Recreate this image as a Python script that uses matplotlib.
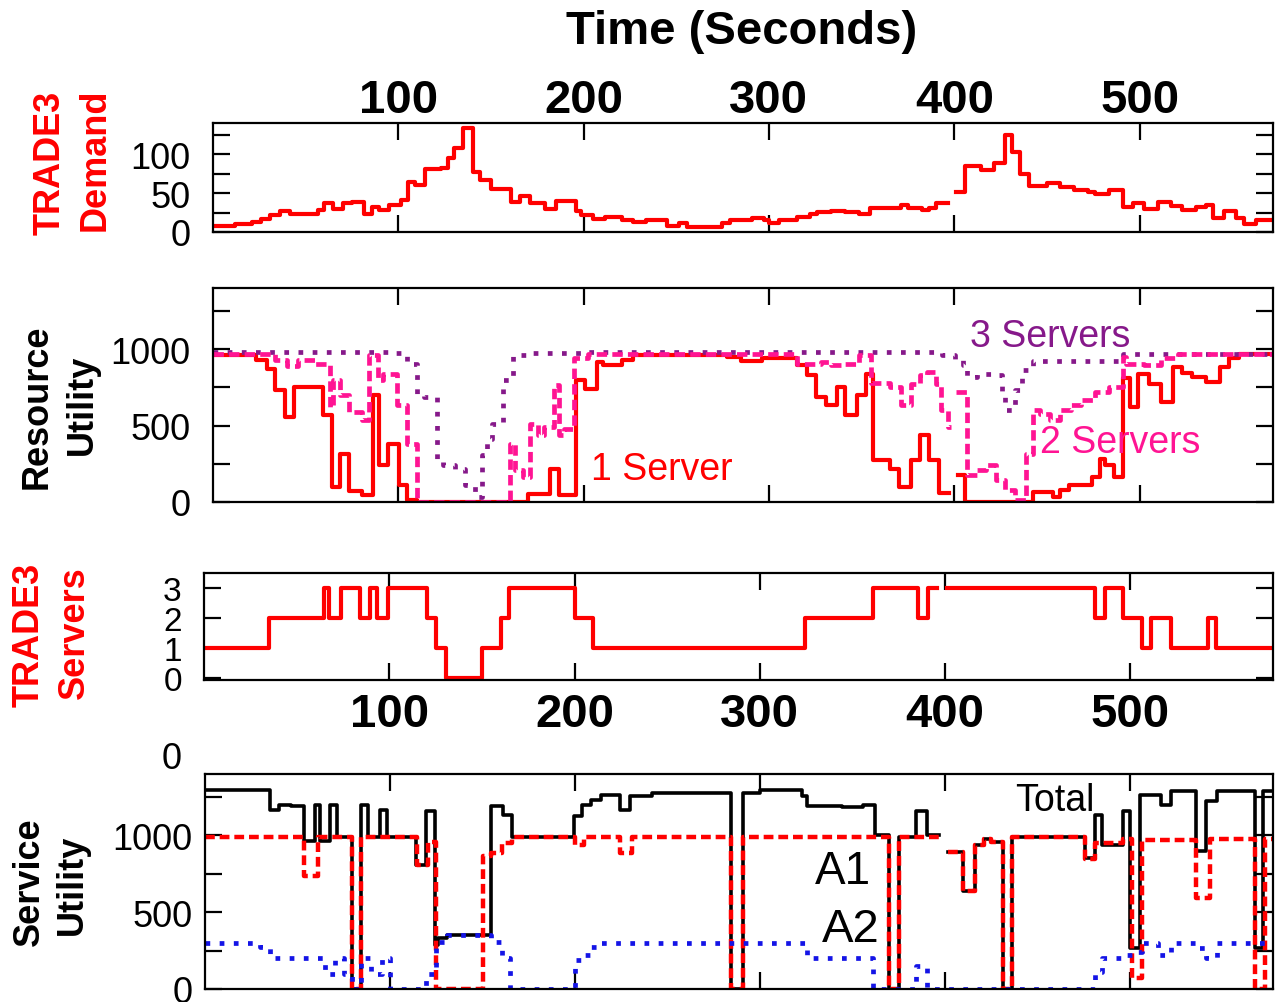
import numpy as np
import matplotlib
matplotlib.use('Agg')
import matplotlib.pyplot as plt

nan = np.nan

# ---------------- Panel 1: TRADE3 demand ----------------
demand_t = [0, 12, 21.3, 25.9, 30.5, 36, 41.6, 56.4, 60.1, 64.7, 70.3, 74.9, 81.4, 86, 89.7, 95.2,
            101.7, 105.4, 109.1, 114.6, 123, 126.7, 130.3, 135, 140.5, 144.2, 149.8, 160.8, 165.5,
            171, 179.3, 184.9, 196, 198.7, 205.2, 211.7, 220.9, 226.5, 233.9, 245, 251.4, 256,
            263.4, 274.5, 279.2, 285, 290.6, 297.2, 300, 305.6, 315, 322.4, 326.2, 333.7, 341.2,
            348.7, 354.3, 371.1, 374.9, 382.4, 386.1, 389.9, 396.4, 401.1, 405.8, 414.2, 421.7,
            427.3, 431.1, 435.7, 440.4, 449.8, 457.3, 464.8, 472.3, 476, 483.5, 491, 496.6, 502.2,
            509.7, 517.2, 522.8, 530.3, 535.9, 539.7, 545.3, 551.8, 556.5, 563, 572]
demand_v = [8, 10.5, 12.7, 17, 21.4, 27, 23.6, 28, 36.7, 30, 36.7, 38.9, 23.6, 32.3, 28.8, 34.5,
            41, 63.8, 60.7, 81.2, 82.5, 95.6, 107.4, 133.6, 76.9, 67.3, 55, 38.9, 46.3,
            37.6, 30, 40.2, 27, 21.4, 17, 19.2, 15.7, 12.7, 14.8, 8.3, 11.4, 6.1,
            7, 11.4, 14.8, 15.7, 18.3, 15.7, 11.4, 15.7, 19.2, 22.7, 25.8, 27, 25.8,
            22.7, 31.4, 34.5, 31.4, 27.9, 31.4, 36.7, nan, 52, 84.7, 79.5, 89,
            124.9, 103, 75, 58.5, 62.9, 57.2, 54.2, 52, 48.9, 54.2, 32.3, 37.6, 30,
            38.9, 33.2, 27.9, 32.3, 34.5, 18.3, 27, 18.3, 10.5, 14.8, 14.8]

# ---------------- Panel 2: resource utility ----------------
one_srv_t = [0, 23.4, 29, 33.6, 39.1, 43.7, 59.4, 64, 68.6, 73.2, 80.6, 86.2, 89.5, 94.5, 100.5,
             104.6, 110.1, 170.1, 182.1, 186.7, 195.9, 200.5, 207, 210.7, 220.8, 226.4, 277.5,
             285, 296.2, 305.6, 315, 320.6, 325.3, 330.9, 336.5, 341.2, 347.7, 352.4, 356.2,
             365.5, 370.2, 376.7, 381.4, 386.1, 391.7, 397.3, 402, 405.8, 442.3, 453.5, 457.3,
             462, 474.1, 478.8, 481.6, 486.3, 491, 494.7, 499.4, 505, 511.6, 518.1, 522.8, 528.4,
             535.9, 543.4, 548.1, 553.7, 572]
one_srv_v = [960, 932, 867, 731, 557, 753, 568, 98, 317, 70, 44, 699, 240, 382, 109,
             11, 0, 50, 218, 44, 797, 736, 917, 895, 932, 960, 950,
             923, 945, 939, 895, 830, 688, 633, 753, 568, 699, 836, 273,
             218, 98, 273, 437, 273, 59, nan, 175, 0, 65, 33, 76,
             109, 164, 284, 240, 164, 808, 622, 840, 775, 655, 884, 845, 819,
             786, 884, 939, 971, 971]

two_srv_t = [0, 33.6, 40, 45.6, 54.8, 63.1, 64.9, 68.6, 73.2, 80.6, 84.3, 88.9, 91.7, 99.1, 104.6,
             110.1, 160, 162.7, 167.3, 171, 175.6, 178.4, 183.9, 186.7, 189.5, 195, 202.4, 315,
             328.1, 333.7, 341.2, 348.7, 355.2, 365.5, 371.1, 376.7, 381.4, 385.2, 389.9, 392.7,
             396.4, 398.3, 401.1, 406.7, 412.3, 417, 422.6, 427.3, 432.9, 438.5, 442.3, 446,
             451.7, 457.3, 462.9, 468.5, 476, 483.5, 491, 492.9, 502.2, 511.6, 521, 572]
two_srv_v = [971, 928, 888, 928, 906, 622, 797, 699, 589, 535, 960, 797, 840, 633, 382,
             0, 382, 207, 164, 513, 437, 491, 764, 437, 480, 939, 967, 906,
             917, 895, 906, 960, 779, 753, 633, 775, 830, 851, 775, 600,
             491, nan, 720, 175, 207, 240, 142, 76, 11, 317, 600, 578,
             535, 600, 633, 666, 720, 753, 950, 906, 895, 939, 967, 967]

three_srv_t = [0, 99, 104.6, 110.1, 114, 121, 124, 130.4, 136, 141.5, 145.2, 148, 150.7, 156.3,
               161.8, 171, 200, 393.6, 400.2, 404.9, 406.7, 412.4, 419.8, 425.5, 427.3, 433,
               436.7, 442.3, 491, 572]
three_srv_v = [982, 975, 906, 700, 688, 273, 240, 218, 109, 33, 306, 415, 513, 797,
               960, 975, 980, 960, 928, 895, 819, 840, 830, 710, 600, 731,
               862, 923, 967, 967]

# ---------------- Panel 3: TRADE3 servers ----------------
servers_t = [0, 35.2, 64.8, 67.6, 74.1, 84.3, 89.8, 93.5, 99.1, 120.4, 125, 130.6, 150, 160.2,
             164.8, 200, 210.2, 324.4, 360.9, 385.3, 390.9, 395.6, 401.2, 480.9, 486.5, 495.9,
             506.2, 510.9, 522.1, 541.8, 546.5, 577]
servers_v = [1, 2, 3, 2, 3, 2, 3, 2, 3, 2, 1, 0, 1, 2,
             3, 2, 1, 2, 3, 2, 3, nan, 3, 2, 3, 2,
             1, 2, 1, 2, 1, 1]

# ---------------- Panel 4: service utility ----------------
total_t = [0, 35.2, 39.8, 46.3, 53.7, 59.3, 62, 67.6, 71.3, 79.6, 84.3, 88, 94.4, 98.1, 113.9,
           119.4, 124.1, 125.9, 130.6, 154.6, 161.1, 165.7, 199.1, 203.7, 208.3, 213.9, 224.1,
           229.6, 234.3, 241.7, 284.1, 290.6, 300, 322.5, 325.3, 344, 355.3, 361.9, 369.4, 375,
           384.3, 390, 396.5, 401.2, 409.7, 416.2, 420.9, 424.6, 431.2, 435.9, 475.3, 480.9,
           484.6, 495.9, 499.6, 505.3, 516.5, 522.1, 535.2, 540.9, 546.5, 567.1, 571.8, 577]
total_v = [1295, 1167, 1200, 1189, 965, 1200, 965, 1200, 990, 0, 1200, 990, 1167, 990, 809,
           1157, 287, 330, 352, 1189, 1135, 993, 1124, 1200, 1232, 1264, 1167,
           1254, 1260, 1276, 0, 1276, 1298, 1254, 1189, 1183, 1200, 1004, 0, 993,
           1156, 1004, nan, 891, 635, 939, 978, 960, 0, 993, 852, 1135,
           939, 1156, 265, 1265, 1200, 1287, 896, 1222, 1287, 265, 1287, 1287]

a1_t = [0, 53.7, 61.1, 79.6, 84.3, 114.8, 120.4, 125, 150, 154.6, 160.2, 165.7, 200, 204.6,
        224.1, 230.6, 284.3, 290.6, 369.4, 375, 396.5, 401.2, 409.7, 416.2, 420.9, 424.6, 431.2,
        435.9, 475.3, 480.9, 495.9, 500.6, 506.2, 535.2, 542.7, 567.1, 572.7, 577]
a1_v = [993, 735, 993, 0, 993, 809, 960, 0, 863, 885, 950, 987, 939, 993,
        885, 993, 0, 993, 0, 993, nan, 891, 635, 939, 978, 960, 0,
        987, 848, 950, 978, 70, 972, 591, 978, 0, 978, 978]

a2_t = [0, 29.6, 35.2, 64.8, 70.4, 75, 79.6, 84.3, 89.8, 95.4, 100, 119.4, 125, 130.6, 154.6,
        160.2, 164.8, 200, 203.7, 208.3, 212, 325.3, 360.9, 384.3, 390, 480.9, 484.6, 495.9,
        500.6, 506.2, 514.6, 522.1, 535.2, 540.9, 546.5, 577]
a2_v = [298, 276, 200, 100, 200, 100, 0, 200, 100, 200, 0, 100, 309, 352, 309,
        200, 0, 190, 222, 276, 298, 200, 0, 150, 0, 113, 200, 222,
        243, 298, 222, 298, 265, 200, 298, 298]

time_ticks = [100, 200, 300, 400, 500]
time_labels = ['100', '200', '300', '400', '500']

# ---------------------------------------------------------------
plt.rcParams['font.family'] = ['Liberation Sans', 'DejaVu Sans']
W, H = 1275, 1003
fig = plt.figure(figsize=(W / 100, H / 100), dpi=100)

RED = '#FF0000'
PINK = '#FF1493'
PURPLE = '#86198A'
BLUE = '#1414E6'

DOT = (0, (1.0, 2.0))
DASH = (0, (2.2, 1.1))


def fx(x):
    return x / W


def fy(y):
    return 1 - y / H


def add_ax(l, t, r, b):
    return fig.add_axes([l / W, 1 - b / H, (r - l) / W, (b - t) / H])


def style(ax, xlim, ylim, yticks, ylabels, ysize, ypad):
    ax.set_xlim(*xlim)
    ax.set_ylim(*ylim)
    ax.set_xticks(time_ticks)
    ax.set_yticks(yticks)
    ax.set_yticklabels(ylabels)
    ax.tick_params(axis='both', direction='in', length=12, width=1.6,
                   top=True, bottom=True, left=True, right=True,
                   labelbottom=False, labeltop=False)
    ax.tick_params(axis='y', labelsize=ysize, pad=ypad)
    for s in ax.spines.values():
        s.set_linewidth(1.6)


# Panel 1
ax1 = add_ax(213, 124, 1273, 233)
ax1.plot(demand_t, demand_v, drawstyle='steps-post', color=RED, lw=3)
style(ax1, (0, 572), (0, 140), [0, 25, 50, 75, 100, 125],
      ['0', '', '50', '', '100', ''], 26, 16)
ax1.tick_params(axis='x', labeltop=True, pad=1)
ax1.set_xticklabels(time_labels, fontsize=34, fontweight='bold')

# Panel 2
ax2 = add_ax(213, 289, 1273, 503)
ax2.plot(one_srv_t, one_srv_v, drawstyle='steps-post', color=RED, lw=3)
ax2.plot(three_srv_t, three_srv_v, drawstyle='steps-post', color=PURPLE, lw=3.4,
         linestyle=DOT, dash_capstyle='butt')
ax2.plot(two_srv_t, two_srv_v, drawstyle='steps-post', color=PINK, lw=3.4,
         linestyle=DASH, dash_capstyle='butt')
style(ax2, (0, 572), (0, 1400), [0, 250, 500, 750, 1000, 1250],
      ['0', '', '500', '', '1000', ''], 26, 16)
ax2.text(fx(662), fy(470), '1 Server', transform=fig.transFigure, color=RED,
         fontsize=27, ha='center', va='center')
ax2.text(fx(1120), fy(443), '2 Servers', transform=fig.transFigure, color=PINK,
         fontsize=27, ha='center', va='center')
ax2.text(fx(1050), fy(337), '3 Servers', transform=fig.transFigure, color=PURPLE,
         fontsize=27, ha='center', va='center')

# Panel 3
ax3 = add_ax(204, 574, 1273, 681)
ax3.plot(servers_t, servers_v, drawstyle='steps-post', color=RED, lw=3)
style(ax3, (0, 577), (-0.05, 3.5), [0, 1, 2, 3], ['0', '1', '2', '3'], 24, 16)
ax3.tick_params(axis='x', labelbottom=True, pad=9)
ax3.set_xticklabels(time_labels, fontsize=34, fontweight='bold')

# Panel 4
ax4 = add_ax(205, 775, 1273, 990)
ax4.plot(total_t, total_v, drawstyle='steps-post', color='black', lw=2.6)
ax4.plot(a1_t, a1_v, drawstyle='steps-post', color=RED, lw=3.2,
         linestyle=DASH, dash_capstyle='butt')
ax4.plot(a2_t, a2_v, drawstyle='steps-post', color=BLUE, lw=3.4,
         linestyle=DOT, dash_capstyle='butt')
style(ax4, (0, 577), (0, 1400), [0, 250, 500, 750, 1000, 1250],
      ['0', '', '500', '', '1000', ''], 26, 9)
ax4.text(fx(1055), fy(801), 'Total', transform=fig.transFigure, color='black',
         fontsize=27, ha='center', va='center')
ax4.text(fx(843), fy(872), 'A1', transform=fig.transFigure, color='black',
         fontsize=33, ha='center', va='center')
ax4.text(fx(851), fy(930), 'A2', transform=fig.transFigure, color='black',
         fontsize=34, ha='center', va='center')
fig.text(fx(172), fy(760), '0', fontsize=26, ha='center', va='center')

# Title and y labels
fig.text(fx(742), fy(32), 'Time (Seconds)', fontsize=34, fontweight='bold',
         ha='center', va='center')
ylab = dict(rotation=90, fontsize=26, fontweight='bold', ha='center', va='center')
fig.text(fx(50), fy(163), 'TRADE3', color=RED, **ylab)
fig.text(fx(95), fy(160), 'Demand', color=RED, **ylab)
fig.text(fx(37), fy(407), 'Resource', color='black', **ylab)
fig.text(fx(82), fy(405), 'Utility', color='black', **ylab)
fig.text(fx(29), fy(635), 'TRADE3', color=RED, **ylab)
fig.text(fx(74), fy(633), 'Servers', color=RED, **ylab)
fig.text(fx(29), fy(882), 'Service', color='black', **ylab)
fig.text(fx(72), fy(885), 'Utility', color='black', **ylab)

fig.savefig('out.png', dpi=100)
